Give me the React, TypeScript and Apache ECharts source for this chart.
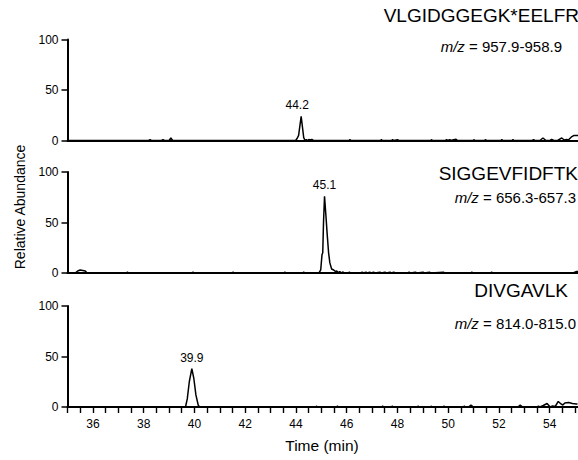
import React, { useEffect, useRef } from "react";
import * as echarts from "echarts";

const peptideNames = ["VLGIDGGEGK*EELFR", "SIGGEVFIDFTK", "DIVGAVLK"];
const mzRanges = ["957.9-958.9", "656.3-657.3", "814.0-815.0"];
const peakLabels = ["44.2", "45.1", "39.9"];
const xTickLabels = [36, 38, 40, 42, 44, 46, 48, 50, 52, 54];
const yTickValues = [0, 50, 100];

const trace1: number[][] = [
  [35.0, 0], [38.2, 0], [38.25, 0.8], [38.3, 0], [38.7, 0], [38.76, 0.8], [38.82, 0], [39.0, 0], [39.07, 2.5], [39.14, 0],
  [43.98, 0], [44.04, 2], [44.1, 5], [44.2, 24], [44.3, 3], [44.35, 0], [44.4, 1], [44.45, 0], [44.5, 1], [44.55, 0.5],
  [44.62, 1], [44.68, 0], [46.08, 0], [46.12, 0.8], [46.16, 0], [47.32, 0], [47.36, 0.8], [47.4, 0], [47.76, 0], [47.8, 0.8],
  [47.84, 0], [48.0, 0.8], [48.04, 0], [49.3, 0], [49.33, 0.8], [49.37, 0], [49.88, 0], [49.92, 0.8], [49.98, 0], [50.05, 0.8],
  [50.1, 0], [50.2, 0.8], [50.3, 1.2], [50.36, 0], [50.97, 0], [51.0, 0.8], [51.04, 0], [51.42, 0], [51.45, 0.8], [51.5, 0],
  [52.06, 0], [52.1, 0.8], [52.14, 0], [52.5, 0], [52.54, 0.8], [52.58, 0], [53.3, 0], [53.35, 0.8], [53.4, 0], [53.6, 0],
  [53.72, 2.5], [53.84, 0], [54.0, 0], [54.06, 1], [54.14, 0.3], [54.3, 0], [54.46, 2.5], [54.56, 0.5], [54.65, 1], [54.72, 0.5],
  [54.84, 3.5], [54.95, 5], [55.1, 5],
];

const trace2: number[][] = [
  [35.0, 0], [35.3, 0], [35.4, 2], [35.5, 3], [35.6, 2.5], [35.7, 2], [35.77, 0], [37.32, 0], [37.36, 0.8], [37.4, 0],
  [39.9, 0], [39.94, 0.8], [39.98, 0], [41.48, 0], [41.52, 0.8], [41.56, 0], [43.52, 0], [43.56, 0.8], [43.6, 0], [44.26, 0],
  [44.3, 0.8], [44.34, 0], [44.9, 0], [44.97, 3], [45.02, 18], [45.05, 20], [45.08, 50], [45.12, 76], [45.18, 55], [45.22, 40],
  [45.28, 20], [45.33, 10], [45.4, 4], [45.48, 3], [45.55, 1.5], [45.6, 2], [45.67, 0.5], [45.72, 1.5], [45.78, 0], [45.85, 1],
  [45.9, 0], [46.05, 0], [46.1, 0.8], [46.14, 0], [46.55, 0], [46.6, 0.8], [46.65, 0], [46.75, 0.8], [46.8, 0], [46.9, 0.8],
  [46.95, 0], [47.05, 0.8], [47.1, 0], [47.3, 0.8], [47.35, 0], [47.5, 0.8], [47.55, 0], [47.7, 0.8], [47.75, 0], [47.85, 0.8],
  [47.9, 0], [48.4, 0], [48.45, 0.8], [48.5, 0], [48.7, 0.8], [48.75, 0], [49.0, 0.8], [49.05, 0], [49.25, 0.8], [49.3, 0],
  [49.8, 0.8], [49.85, 0], [50.88, 0], [50.92, 0.8], [50.96, 0], [51.66, 0], [51.7, 0.8], [51.74, 0], [54.9, 0], [55.05, 1.5],
  [55.1, 1.5],
];

const trace3: number[][] = [
  [35.0, 0], [39.65, 0], [39.72, 8], [39.8, 25], [39.9, 38], [39.98, 28], [40.06, 12], [40.15, 2], [40.2, 0], [44.78, 0],
  [44.81, 0.8], [44.85, 0], [45.6, 0], [45.64, 0.8], [45.68, 0], [47.38, 0], [47.42, 0.8], [47.46, 0], [47.76, 0], [47.8, 0.8],
  [47.84, 0], [48.78, 0], [48.82, 0.8], [48.86, 0], [49.3, 0], [49.33, 0.8], [49.37, 0], [49.8, 0], [49.84, 0.8], [49.88, 0],
  [50.6, 0], [50.64, 0.8], [50.68, 0], [50.8, 0], [50.9, 1.8], [51.0, 0], [52.75, 0], [52.84, 1.8], [52.94, 0], [53.5, 0],
  [53.56, 0.8], [53.62, 0], [53.75, 1.5], [53.9, 3.5], [54.02, 0], [54.12, 1], [54.22, 0.5], [54.34, 5.5], [54.45, 3], [54.52, 2],
  [54.6, 4], [54.75, 4.5], [54.9, 3.5], [55.05, 3], [55.1, 3],
];

const traces = [trace1, trace2, trace3];

const FONT = "'Liberation Sans', Arial, Helvetica, sans-serif";
const gridTops = [39.5, 172, 306];
const gridHeight = 101;
const X_MIN = 35;
const X_MAX = 55.1;

export default function App() {
  const ref = useRef<HTMLDivElement>(null);

  useEffect(() => {
    if (!ref.current) return;
    const chart = echarts.init(ref.current, null, { renderer: "svg" });

    const grids = gridTops.map((top) => ({ left: 67.5, right: 0, top, height: gridHeight }));

    const xAxes = traces.map((_, i) => ({
      type: "value",
      gridIndex: i,
      min: X_MIN,
      max: X_MAX,
      interval: 0.5,
      axisLine: { show: true, onZero: false, lineStyle: { color: "#000", width: 2 } },
      axisTick: { show: i === 2, inside: false, length: 6, lineStyle: { color: "#000", width: 1.4 } },
      axisLabel: {
        show: i === 2,
        fontSize: 12,
        color: "#000",
        fontFamily: FONT,
        margin: 11,
        showMinLabel: true,
        showMaxLabel: false,
        hideOverlap: false,
        formatter: (v: number) => {
          const r = Math.round(v * 10) / 10;
          return xTickLabels.indexOf(r) >= 0 ? String(r) : "";
        },
      },
      splitLine: { show: false },
    }));

    const yAxes = traces.map((_, i) => ({
      type: "value",
      gridIndex: i,
      min: 0,
      max: 100,
      interval: 50,
      axisLine: { show: true, lineStyle: { color: "#000", width: 2 } },
      axisTick: { show: true, length: 6, lineStyle: { color: "#000", width: 1.5 } },
      axisLabel: {
        fontSize: 12,
        color: "#000",
        fontFamily: FONT,
        margin: 9,
        formatter: (v: number) => (yTickValues.indexOf(v) >= 0 ? String(v) : ""),
      },
      splitLine: { show: false },
    }));

    const labelOffsets = [[-4, 0], [0, 0], [0, 0]];

    const series = traces.map((tr, i) => {
      let maxIdx = 0;
      tr.forEach((p, k) => {
        if (p[1] > tr[maxIdx][1]) maxIdx = k;
      });
      return {
        type: "line",
        xAxisIndex: i,
        yAxisIndex: i,
        data: tr,
        symbol: "none",
        showSymbol: false,
        clip: true,
        lineStyle: { color: "#000", width: 1.5 },
        z: 3,
        markPoint: {
          symbol: "circle",
          symbolSize: 2,
          itemStyle: { color: "rgba(0,0,0,0)" },
          silent: true,
          data: [
            {
              coord: tr[maxIdx],
              value: peakLabels[i],
              label: {
                show: true,
                position: "top",
                distance: 4,
                offset: labelOffsets[i],
                formatter: peakLabels[i],
                fontSize: 12,
                color: "#000",
                fontFamily: FONT,
              },
            },
          ],
        },
      };
    });

    const titleRights = [579, 578, 568];
    const titleYs = [15, 173, 290];
    const mzRights = [562, 576, 576];
    const mzYs = [46, 197, 323];

    const graphic: any[] = [];
    peptideNames.forEach((name, i) => {
      graphic.push({
        type: "text",
        x: titleRights[i],
        y: titleYs[i],
        style: {
          text: name,
          fontSize: 19,
          fontFamily: FONT,
          fill: "#000",
          align: "right",
          verticalAlign: "middle",
        },
      });
      graphic.push({
        type: "text",
        x: mzRights[i],
        y: mzYs[i],
        style: {
          text: "{i|m/z} = " + mzRanges[i],
          fontSize: 15,
          fontFamily: FONT,
          fill: "#000",
          align: "right",
          verticalAlign: "middle",
          rich: { i: { fontStyle: "italic", fontSize: 15, fontFamily: FONT, fill: "#000" } },
        },
      });
    });
    graphic.push({
      type: "text",
      x: 20,
      y: 207,
      rotation: Math.PI / 2,
      style: {
        text: "Relative Abundance",
        fontSize: 14,
        fontFamily: FONT,
        fill: "#000",
        align: "center",
        verticalAlign: "middle",
      },
    });
    graphic.push({
      type: "text",
      x: 322,
      y: 445,
      style: {
        text: "Time (min)",
        fontSize: 15.5,
        fontFamily: FONT,
        fill: "#000",
        align: "center",
        verticalAlign: "middle",
      },
    });

    chart.setOption({
      animation: false,
      backgroundColor: "#fff",
      grid: grids,
      xAxis: xAxes,
      yAxis: yAxes,
      series,
      graphic,
    });

    return () => chart.dispose();
  }, []);

  return (
    <div
      ref={ref}
      style={{ position: "fixed", left: 0, top: 0, width: 578, height: 460, background: "#fff" }}
    />
  );
}
